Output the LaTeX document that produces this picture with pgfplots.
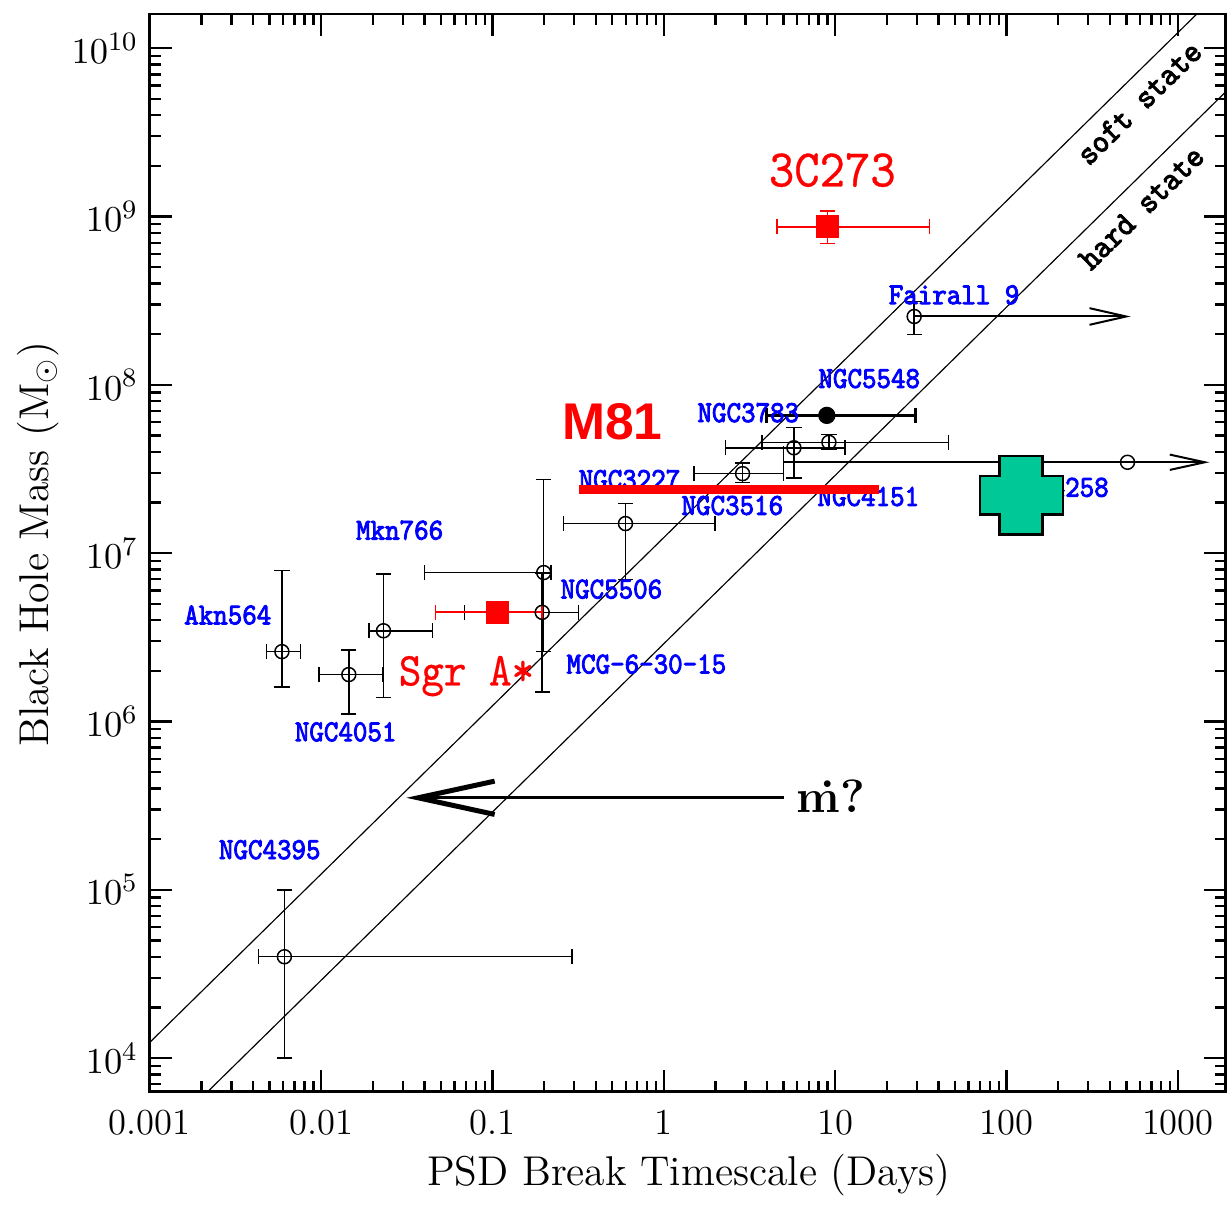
\documentclass[border=0pt]{standalone}
\usepackage{fontspec}
\usepackage{pgfplots}
\usepackage{pgfplotstable}
\pgfplotsset{compat=1.18}
\usetikzlibrary{arrows.meta}
\newfontfamily\bigsans{Liberation Sans}
\newfontfamily\heavytt{lmmono10-regular.otf}[FakeBold=3]
\newfontfamily\medtt{lmmono10-regular.otf}[FakeBold=0.6]
\definecolor{labblue}{RGB}{0,0,255}
\definecolor{crossgreen}{RGB}{0,200,150}

% x y and the ends of the error bars
\pgfplotstableread{
x      y       xlo     xhi     ylo     yhi
0.0061 4.0e4   0.0043  0.29    1.0e4   1.0e5
0.0059 2.6e6   0.0048  0.0076  1.6e6   7.9e6
0.0145 1.9e6   0.0097  0.0229  1.11e6  2.66e6
0.0231 3.46e6  0.019   0.0445  1.39e6  7.5e6
0.199  7.67e6  0.0401  0.2195  2.6e6   2.74e7
0.195  4.45e6  0.0684  0.317   1.5e6   7.6e6
0.597  1.5e7   0.259   1.99    7.0e6   1.98e7
2.88   2.97e7  1.5     5.0     2.63e7  3.44e7
5.74   4.23e7  2.29    11.4    2.8e7   5.6e7
9.19   4.56e7  3.73    45.8    4.13e7  5.07e7
}\agn

\pgfplotstableread{
x      y       xlo     xhi     ylo     yhi
9.02   8.7e8   4.57    35.6    6.9e8   1.08e9
}\qso

\tikzset{lab/.style={text=labblue, font=\heavytt\fontsize{8.3}{9}\selectfont}}
\newcommand\tall[1]{\scalebox{1}[1.1]{#1}}

\begin{document}
\begin{tikzpicture}
\begin{axis}[
  width=323.1pt, height=323.7pt, scale only axis,
  xmode=log, ymode=log,
  xmin=0.001, xmax=1900, ymin=6300, ymax=1.6e10,
  tick align=inside,
  major tick length=6.6pt, minor tick length=3.3pt,
  every tick/.style={black, line width=0.7pt},
  axis line style={line width=0.8pt},
  xtick={0.001,0.01,0.1,1,10,100,1000},
  xticklabels={0.001,0.01,0.1,1,10,100,1000},
  minor xtick={0.002,0.003,0.004,0.005,0.006,0.007,0.008,0.009,
    0.02,0.03,0.04,0.05,0.06,0.07,0.08,0.09,
    0.2,0.3,0.4,0.5,0.6,0.7,0.8,0.9,
    2,3,4,5,6,7,8,9,20,30,40,50,60,70,80,90,
    200,300,400,500,600,700,800,900},
  ticklabel style={font=\fontsize{11}{12}\selectfont},
  xticklabel style={yshift=-2pt},
  xlabel={PSD Break Timescale (Days)},
  ylabel={Black Hole Mass (M$_\odot$)},
  label style={font=\fontsize{12.5}{14}\selectfont},
  xlabel style={at={(axis description cs:0.501,-0.077)}, anchor=center},
  ylabel style={at={(axis description cs:-0.104,0.508)}, anchor=center},
  error bars/error bar style={line width=0.45pt},
  error bars/error mark options={rotate=90, mark size=2.3pt, line width=0.45pt},
]
% soft and hard state relations
\addplot[black, line width=0.35pt] coordinates {(0.0005,6.2e3) (2000,2.48e10)};
\addplot[black, line width=0.35pt] coordinates {(0.001,2.9e3) (2000,5.8e9)};

% AGN with error bars
\addplot[black, only marks, mark=o, mark size=2.1pt, mark options={line width=0.45pt},
  error bars/.cd, x dir=both, x explicit, y dir=both, y explicit]
  table[x=x, y=y,
    x error plus expr=\thisrow{xhi}-\thisrow{x},
    x error minus expr=\thisrow{x}-\thisrow{xlo},
    y error plus expr=\thisrow{yhi}-\thisrow{y},
    y error minus expr=\thisrow{y}-\thisrow{ylo}] {\agn};

% Fairall 9
\addplot[black, only marks, mark=o, mark size=2.1pt, mark options={line width=0.45pt},
  error bars/.cd, y dir=both, y explicit]
  coordinates {(28.9,2.55e8) += (0,0.57e8) -= (0,0.56e8)};
\addplot[black, line width=0.6pt, -{Straight Barb[length=11pt,width=5pt]}]
  coordinates {(28.9,2.55e8) (530,2.55e8)};

% NGC 3783 (filled)
\addplot[black, only marks, mark=*, mark size=2.4pt,
  error bars/.cd, x dir=both, x explicit,
  error bar style={line width=0.9pt}, error mark options={rotate=90, mark size=2.3pt, line width=0.9pt}]
  coordinates {(8.93,6.59e7) += (20.37,0) -= (4.98,0)};

% NGC 4151 lower limit
\addplot[black, line width=0.6pt, -{Straight Barb[length=10.5pt,width=4.6pt]}]
  coordinates {(5.0,3.47e7) (1528,3.47e7)};
\addplot[black, line width=0.45pt] coordinates {(5.0,2.87e7) (5.0,4.32e7)};
\addplot[black, only marks, mark=o, mark size=2.1pt, mark options={line width=0.45pt}]
  coordinates {(508,3.47e7)};

% Sgr A* and 3C273
\addplot[red, only marks, mark=square*, mark size=3.3pt,
  error bars/.cd, x dir=both, x explicit]
  coordinates {(0.1074,4.46e6) += (0.0876,0) -= (0.061,0)};
\addplot[red, only marks, mark=square*, mark size=3.3pt,
  error bars/.cd, x dir=both, x explicit, y dir=both, y explicit]
  table[x=x, y=y,
    x error plus expr=\thisrow{xhi}-\thisrow{x},
    x error minus expr=\thisrow{x}-\thisrow{xlo},
    y error plus expr=\thisrow{yhi}-\thisrow{y},
    y error minus expr=\thisrow{y}-\thisrow{ylo}] {\qso};

% accretion-rate arrow
\addplot[black, line width=0.9pt, -{Straight Barb[length=23pt,width=10pt,line width=1.5pt]}]
  coordinates {(5.05,3.52e5) (0.0314,3.52e5)};

% labels
\node[lab] at (axis cs:49.4,3.43e8) {\tall{Fairall 9}};
\node[lab] at (axis cs:15.8,1.09e8) {\tall{NGC5548}};
\node[lab] at (axis cs:3.11,6.84e7) {\tall{NGC3783}};
\node[lab] at (axis cs:0.63,2.74e7) {\tall{NGC3227}};
\node[lab] at (axis cs:2.51,1.92e7) {\tall{NGC3516}};
\node[lab] at (axis cs:15.6,2.17e7) {\tall{NGC4151}};
\node[lab] at (axis cs:199.5,2.46e7) {\tall{NGC4258}};
\node[lab] at (axis cs:0.0287,1.37e7) {\tall{Mkn766}};
\node[lab] at (axis cs:0.00285,4.29e6) {\tall{Akn564}};
\node[lab] at (axis cs:0.494,6.11e6) {\tall{NGC5506}};
\node[lab] at (axis cs:0.791,2.19e6) {\tall{MCG-6-30-15}};
\node[lab] at (axis cs:0.0139,8.67e5) {\tall{NGC4051}};
\node[lab] at (axis cs:0.00501,1.73e5) {\tall{NGC4395}};
\node[rotate=44.5, font=\heavytt\fontsize{9.2}{10}\selectfont] at (axis cs:593,4.74e9) {\tall{soft state}};
\node[rotate=44.5, font=\heavytt\fontsize{9.2}{10}\selectfont] at (axis cs:612,1.13e9) {\tall{hard state}};

% M81 bar
\addplot[red, line width=2.7pt] coordinates {(0.319,2.39e7) (17.9,2.39e7)};

% NGC 4258 cross
\addplot[draw=black, fill=crossgreen, line width=0.7pt] coordinates {
  (90.8,3.77e7) (162.2,3.77e7) (162.2,2.87e7) (213,2.87e7) (213,1.70e7)
  (162.2,1.70e7) (162.2,1.29e7) (90.8,1.29e7) (90.8,1.70e7) (69.7,1.70e7)
  (69.7,2.87e7) (90.8,2.87e7) (90.8,3.77e7)} -- cycle;

\node[text=red, font=\bigsans\bfseries\fontsize{15.5}{17}\selectfont] at (axis cs:0.501,6.05e7) {M81};
\node[text=red, font=\medtt\fontsize{14.5}{16}\selectfont] at (axis cs:9.62,1.89e9) {\tall{3C273}};
\node[text=red, font=\medtt\fontsize{12.9}{14}\selectfont] at (axis cs:0.0705,1.86e6) {\tall{Sgr A*}};
\node[anchor=west, inner sep=0pt, font=\fontsize{14}{15}\selectfont] at (axis cs:5.9,3.62e5) {\textbf{\.{m}?}};
\end{axis}
\path (current axis.south west) ++(-45pt,-31pt);
\path (current axis.north east) ++(0pt,4.2pt);
\end{tikzpicture}
\end{document}
